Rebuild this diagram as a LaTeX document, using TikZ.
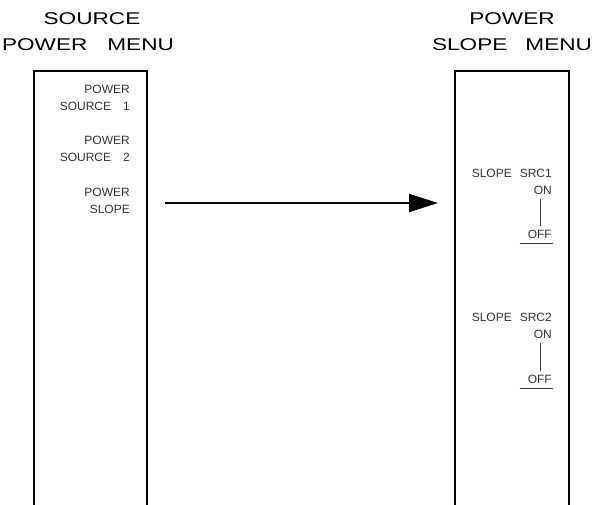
\documentclass[tikz,border=0pt]{standalone}
\usepackage{fontspec}
\setmainfont{Liberation Sans}
\newfontfamily\titlefont[FakeStretch=1.33]{Liberation Sans}
\usetikzlibrary{arrows.meta,positioning}
\tikzset{
  menutitle/.style={font=\titlefont\fontsize{17}{19}\selectfont, anchor=base, inner sep=0pt},
  softkey/.style={font=\fontsize{12}{14}\selectfont, text=black!80, anchor=base east, inner sep=0pt},
  menubox/.style={line width=1.2pt},
  togglebar/.style={line width=1.2pt, black!75},
  menuarrow/.style={line width=2pt, -{Triangle[length=29pt,width=18pt]}},
}
\begin{document}
\begin{tikzpicture}[x=1pt,y=-1pt]
  \useasboundingbox (0,0) rectangle (595,505);

  % Menu titles
  \node[menutitle] (srcA) at (92,25) {SOURCE};
  \node[menutitle] (srcB) at (88,51) {POWER\hspace{20pt}MENU};
  \node[menutitle] (slpA) at (512,25) {POWER};
  \node[menutitle] (slpB) at (512,51) {SLOPE\hspace{18pt}MENU};

  % Menu boxes (open at the bottom)
  \draw[menubox] (34,505) -- (34,71) -- (147,71) -- (147,505);
  \draw[menubox] (455,505) -- (455,71) -- (569,71) -- (569,505);

  % Source power softkeys
  \node[softkey] (ps1a) at (130,94) {POWER};
  \node[softkey] (ps1b) at (130,111) {SOURCE\hspace{12pt}1};
  \node[softkey] (ps2a) at (130,145) {POWER};
  \node[softkey] (ps2b) at (130,162) {SOURCE\hspace{12pt}2};
  \node[softkey] (pslA) at (130,197) {POWER};
  \node[softkey] (pslB) at (130,214) {SLOPE};

  % Power slope softkeys
  \node[softkey] (sl1) at (552,178) {SLOPE\hspace{8pt}SRC1};
  \node[softkey] (on1) at (552,195) {ON};
  \node[softkey] (off1) at (552,239) {OFF};
  \node[softkey] (sl2) at (552,322) {SLOPE\hspace{8pt}SRC2};
  \node[softkey] (on2) at (552,339) {ON};
  \node[softkey] (off2) at (552,384) {OFF};

  % ON/OFF toggles
  \draw[togglebar] ([xshift=-2pt,yshift=-4pt]on1.south) -- ([xshift=-2pt,yshift=4pt]on1.south |- off1.north);
  \draw[togglebar] ([xshift=-8pt,yshift=-4pt]off1.south west) -- ([xshift=1pt,yshift=-4pt]off1.south east);
  \draw[togglebar] ([xshift=-2pt,yshift=-4pt]on2.south) -- ([xshift=-2pt,yshift=4pt]on2.south |- off2.north);
  \draw[togglebar] ([xshift=-8pt,yshift=-4pt]off2.south west) -- ([xshift=1pt,yshift=-4pt]off2.south east);

  % Softkey leads to the next menu
  \coordinate (tail) at (165,203);
  \coordinate (tip) at (438,203);
  \draw[menuarrow] (tail) -- (tip);
\end{tikzpicture}
\end{document}
